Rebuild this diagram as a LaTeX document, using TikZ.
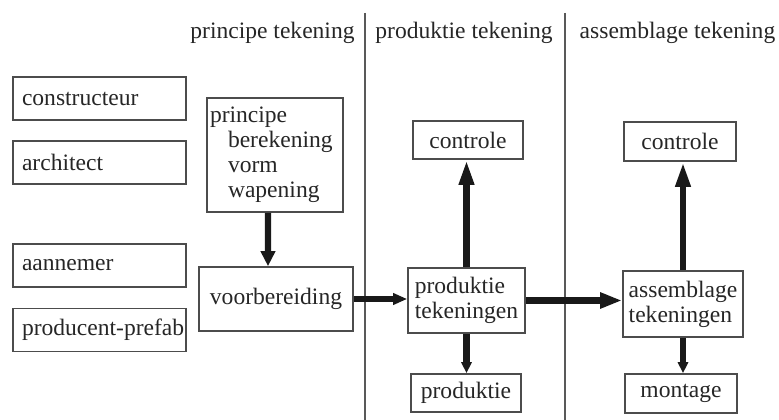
\documentclass[tikz,border=0pt]{standalone}
\usepackage{fontspec}
\setmainfont{Liberation Serif}
\usepackage{tikz}
\usetikzlibrary{arrows.meta}
\tikzstyle{plain_box}=[draw=black!70, line width=0.9pt, text=black!85, font=\fontsize{13.4}{14.2}\selectfont]
\tikzstyle{role_box}=[plain_box, text width=3.1cm, inner xsep=0.18cm, minimum height=0.86cm, align=left]
\tikzstyle{flow_arrow}=[line width=3.6pt, black!90]
\tikzstyle{header}=[text=black!85, font=\fontsize{13.4}{14.2}\selectfont]

\begin{document}
\begin{tikzpicture}
              \useasboundingbox (0,0) rectangle (15.58,8.4);
              \node[header] (head0) at (5.45,7.74){principe tekening};
              \node[header] (head1) at (9.28,7.74){produktie tekening};
              \node[header] (head2) at (13.55,7.74){assemblage tekening};
              \coordinate (sep0top) at (7.3,8.14);
              \coordinate (sep0bot) at (7.3,0);
              \coordinate (sep1top) at (11.3,8.14);
              \coordinate (sep1bot) at (11.3,0);
              \draw[black!65, line width=0.9pt](sep0top) -- (sep0bot);
              \draw[black!65, line width=0.9pt](sep1top) -- (sep1bot);
              \node[role_box] (role0) at (1.99,6.43){constructeur};
              \node[role_box] (role1) at (1.99,5.15){architect};
              \node[role_box] (role2) at (1.99,3.09){aannemer};
              \node[role_box] (role3) at (1.99,1.80){\mbox{producent-prefab}};
              \node[plain_box, text width=2.6cm, inner xsep=0.06cm, minimum height=2.28cm, align=left] (principe) at (5.5,5.3){principe\\\hspace*{0.36cm}berekening\\\hspace*{0.36cm}vorm\\\hspace*{0.36cm}wapening};
              \node[plain_box, minimum width=3.08cm, minimum height=1.28cm] (voorbereiding) at (5.52,2.42){voorbereiding};
              \node[plain_box, minimum width=2.34cm, minimum height=1.3cm, align=left] (prod_tek) at (9.33,2.39){produktie\\tekeningen};
              \node[plain_box, minimum width=2.2cm, minimum height=0.76cm] (controle0) at (9.36,5.6){controle};
              \node[plain_box, minimum width=2.2cm, minimum height=0.76cm] (produktie) at (9.32,0.54){produktie};
              \node[plain_box, minimum width=2.4cm, minimum height=1.32cm, align=left] (ass_tek) at (13.66,2.32){assemblage\\tekeningen};
              \node[plain_box, minimum width=2.24cm, minimum height=0.78cm] (controle1) at (13.6,5.57){controle};
              \node[plain_box, minimum width=2.24cm, minimum height=0.78cm] (montage) at (13.62,0.53){montage};
              \draw[flow_arrow, -{Triangle[length=0.3cm, width=0.28cm]}]([xshift=-0.14cm]principe.south) -- ([xshift=-0.16cm]voorbereiding.north);
              \draw[flow_arrow, -{Triangle[length=0.28cm, width=0.22cm]}](voorbereiding.east) -- (voorbereiding.east -| prod_tek.west);
              \draw[flow_arrow, -{Triangle[length=0.5cm, width=0.28cm]}](prod_tek.north) -- (prod_tek.north |- controle0.south);
              \draw[flow_arrow, -{Triangle[length=0.22cm, width=0.2cm]}](prod_tek.south) -- (prod_tek.south |- produktie.north);
              \draw[flow_arrow, -{Triangle[length=0.44cm, width=0.3cm]}](prod_tek.east) -- (prod_tek.east -| ass_tek.west);
              \draw[flow_arrow, -{Triangle[length=0.5cm, width=0.28cm]}](ass_tek.north) -- (ass_tek.north |- controle1.south);
              \draw[flow_arrow, -{Triangle[length=0.22cm, width=0.2cm]}](ass_tek.south) -- (ass_tek.south |- montage.north);
            \end{tikzpicture}
\end{document}
